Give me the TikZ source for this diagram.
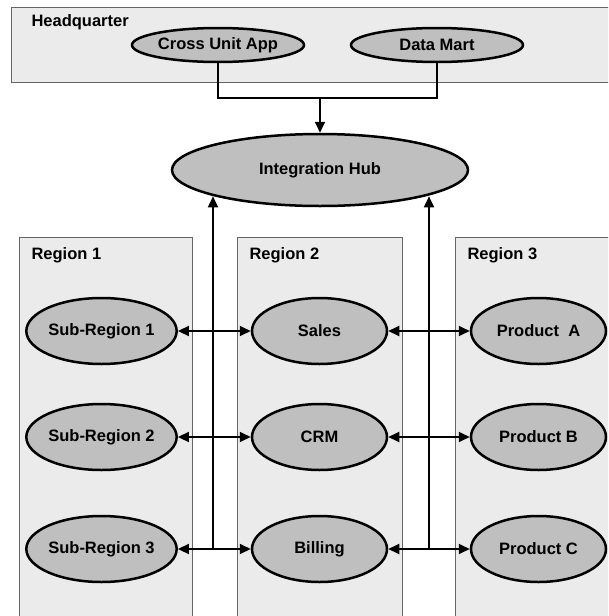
\documentclass[tikz,border=0pt]{standalone}
\usepackage{fontspec}
\setmainfont{Liberation Sans}
\usetikzlibrary{shapes.geometric,arrows.meta}

\begin{document}
\begin{tikzpicture}[x=1pt,y=-1pt,
        font=\fontsize{16.5}{19}\selectfont\bfseries,
        >={Triangle[length=11pt,width=10pt]},
        unit/.style={draw=black!60,line width=0.8pt,fill=black!8},
        app/.style={ellipse,draw,line width=2.5pt,fill=black!25,inner sep=0pt,
            minimum width=135pt,minimum height=66pt},
        link/.style={line width=1.8pt}]
        \useasboundingbox (0,0) rectangle (608,616);
        \clip (0,0) rectangle (608,616);

        % Draw unit boxes
        \draw[unit] (11,7) rectangle (620,82);
        \draw[unit] (19,237) rectangle (192,630);
        \draw[unit] (237,237) rectangle (402,630);
        \draw[unit] (455,237) rectangle (620,630);
        \node[anchor=base west] (hq) at (28,26) {Headquarter};
        \node[anchor=base west] (reg1) at (28,259) {Region 1};
        \node[anchor=base west] (reg2) at (246,259) {Region 2};
        \node[anchor=base west] (reg3) at (464,259) {Region 3};

        % Draw applications
        \node[app,minimum width=172pt,minimum height=34pt] (crossapp) at (218,45) {Cross Unit App};
        \node[app,minimum width=172pt,minimum height=34pt] (datamart) at (437,45) {Data Mart};
        \node[app,minimum width=296pt,minimum height=72pt] (hub) at (320,170) {Integration Hub};

        \node[app] (sub1) at (101.5,331) {Sub-Region 1};
        \node[app] (sub2) at (101.5,437) {Sub-Region 2};
        \node[app] (sub3) at (101.5,549) {Sub-Region 3};
        \node[app] (sales) at (319.5,331) {Sales};
        \node[app] (crm) at (319.5,437) {CRM};
        \node[app] (billing) at (319.5,549) {Billing};
        \node[app] (proda) at (538.5,331) {Product\ \ A};
        \node[app] (prodb) at (538.5,437) {Product B};
        \node[app] (prodc) at (538.5,549) {Product C};

        % Draw links to the hub
        \coordinate (join) at (320,98);
        \draw[link] (crossapp) -- (crossapp |- join) -- (datamart |- join) -- (datamart);
        \draw[link,->] (join) -- (hub);
        \coordinate (left) at (213,549);
        \coordinate (right) at (429,549);
        \draw[link,->] (left) -- (left |- hub.194);
        \draw[link,->] (right) -- (right |- hub.346);

        % Draw links between regions
        \draw[link,<->] (sub1) -- (sales);
        \draw[link,<->] (sub2) -- (crm);
        \draw[link,<->] (sub3) -- (billing);
        \draw[link,<->] (sales) -- (proda);
        \draw[link,<->] (crm) -- (prodb);
        \draw[link,<->] (billing) -- (prodc);
    \end{tikzpicture}
\end{document}
